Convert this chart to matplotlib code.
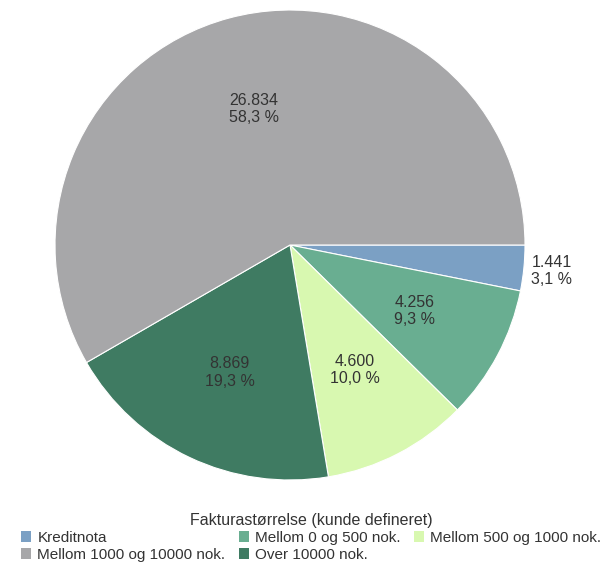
import numpy as np
import matplotlib.pyplot as plt
from matplotlib.patches import Patch

plt.rcParams['font.family'] = ['Liberation Sans', 'DejaVu Sans']

# slices in drawing order (clockwise from 3 o'clock)
names = ["Kreditnota", "Mellom 0 og 500 nok.", "Mellom 500 og 1000 nok.",
         "Over 10000 nok.", "Mellom 1000 og 10000 nok."]
values = [1441, 4256, 4600, 8869, 26834]
colors = ["#7ba0c4", "#69ae91", "#d8f8b0", "#3f7b62", "#a7a7a9"]
legend_order = ["Kreditnota", "Mellom 1000 og 10000 nok.", "Mellom 0 og 500 nok.",
                "Over 10000 nok.", "Mellom 500 og 1000 nok."]

fig = plt.figure(figsize=(6.07, 5.62), dpi=100)
ax = fig.add_axes([0, 0, 1, 1])

cx, cy, r = 290, 562 - 245, 235
wedges, _ = ax.pie(values, colors=colors, startangle=0, counterclock=False,
                   center=(cx, cy), radius=r, frame=True,
                   wedgeprops=dict(edgecolor='white', linewidth=0.8))
ax.set_xlim(0, 607)
ax.set_ylim(0, 562)
ax.set_aspect('equal')
ax.axis('off')

total = sum(values)
for w, v in zip(wedges, values):
    mid = np.deg2rad((w.theta1 + w.theta2) / 2)
    pct = v / total * 100
    d = 1.12 if pct < 5 else 0.6
    x = cx + d * r * np.cos(mid)
    y = cy + d * r * np.sin(mid)
    lab = f"{v:,}".replace(",", ".") + "\n" + f"{pct:.1f} %".replace(".", ",")
    ax.text(x, y, lab, ha='center', va='center', fontsize=11.5, color='#333333',
            linespacing=1.2)

col = dict(zip(names, colors))
handles = [Patch(facecolor=col[n], edgecolor='none') for n in legend_order]
leg = fig.legend(handles, legend_order, ncol=3, loc='lower center',
                 bbox_to_anchor=(0.513, -0.016), frameon=False, fontsize=11,
                 title="Fakturastørrelse (kunde defineret)", title_fontsize=11.5,
                 handlelength=0.65, handleheight=0.65, handletextpad=0.4,
                 columnspacing=0.9, labelspacing=0.2, borderpad=0.1)
leg.get_title().set_color('#333333')
for t in leg.get_texts():
    t.set_color('#333333')

fig.savefig("out.png", dpi=100)
